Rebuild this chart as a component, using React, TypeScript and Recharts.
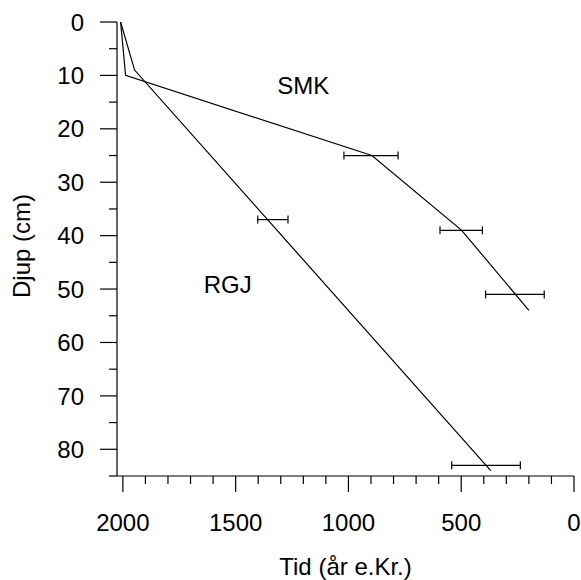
import {
  ComposedChart,
  ErrorBar,
  Line,
  ReferenceDot,
  Scatter,
  XAxis,
  YAxis,
} from 'recharts';

// depth profiles: year (e.Kr.) vs depth (cm)
const smkLine = [
  { year: 2010, depth: 0 },
  { year: 1988, depth: 10 },
  { year: 896, depth: 25 },
  { year: 498, depth: 39 },
  { year: 200, depth: 54 },
];
const rgjLine = [
  { year: 2010, depth: 0 },
  { year: 1948, depth: 9 },
  { year: 369, depth: 84 },
];

// dated levels with +/- years
const smkDates = [
  { year: 900, depth: 25, err: 120 },
  { year: 500, depth: 39, err: 94 },
  { year: 262, depth: 51, err: 130 },
];
const rgjDates = [
  { year: 1335, depth: 37, err: 67 },
  { year: 390, depth: 83, err: 152 },
];

const siteLabels = [
  { name: 'SMK', year: 1200, depth: 11.8 },
  { name: 'RGJ', year: 1535, depth: 49.2 },
];

const xTicks = Array.from({ length: 21 }, (_, i) => i * 100);
const yTicks = Array.from({ length: 18 }, (_, i) => i * 5);

const FONT = '"Liberation Sans", Arial, sans-serif';
const FS = 24;

const XTick = (props: any) => {
  const { x, y, payload } = props;
  const major = payload.value % 500 === 0;
  return (
    <g>
      <line x1={x} x2={x} y1={y} y2={y + (major ? 16 : 8)} stroke="#000" strokeWidth={1.2} />
      {major && (
        <text x={x} y={y + 46} dy="0.36em" textAnchor="middle" fontSize={FS} fontFamily={FONT} fill="#000">
          {payload.value}
        </text>
      )}
    </g>
  );
};

const YTick = (props: any) => {
  const { x, y, payload } = props;
  const major = payload.value % 10 === 0;
  return (
    <g>
      <line x1={x} x2={x - (major ? 17 : 8)} y1={y} y2={y} stroke="#000" strokeWidth={1.2} />
      {major && (
        <text x={x - 33} y={y} dy="0.36em" textAnchor="end" fontSize={FS} fontFamily={FONT} fill="#000">
          {payload.value}
        </text>
      )}
    </g>
  );
};

const NoDot = () => <g />;

export default function App() {
  return (
    <div style={{ position: 'absolute', left: 0, top: 0, background: '#fff' }}>
      <ComposedChart
        width={581}
        height={580}
        margin={{ top: 22, right: 7, bottom: 0, left: 0 }}
        style={{ fontFamily: FONT }}
      >
        <XAxis
          type="number"
          dataKey="year"
          domain={[0, 2026]}
          reversed
          ticks={xTicks}
          interval={0}
          tick={<XTick />}
          tickLine={false}
          tickSize={0}
          tickMargin={0}
          height={104}
          axisLine={{ stroke: '#000', strokeWidth: 1.2 }}
          allowDataOverflow
          label={{
            value: 'Tid (år e.Kr.)',
            position: 'insideBottom',
            offset: 5,
            style: { fontSize: FS, fill: '#000', fontFamily: FONT },
          }}
        />
        <YAxis
          type="number"
          dataKey="depth"
          domain={[0, 85]}
          reversed
          ticks={yTicks}
          interval={0}
          tick={<YTick />}
          tickLine={false}
          tickSize={0}
          tickMargin={0}
          width={117}
          axisLine={{ stroke: '#000', strokeWidth: 1.2 }}
          allowDataOverflow
        />
        <Line
          data={smkLine}
          dataKey="depth"
          stroke="#000"
          strokeWidth={1.2}
          dot={false}
          isAnimationActive={false}
        />
        <Line
          data={rgjLine}
          dataKey="depth"
          stroke="#000"
          strokeWidth={1.2}
          dot={false}
          isAnimationActive={false}
        />
        <Scatter data={smkDates} shape={<NoDot />} isAnimationActive={false}>
          <ErrorBar dataKey="err" direction="x" width={4} stroke="#000" strokeWidth={1.2} />
        </Scatter>
        <Scatter data={rgjDates} shape={<NoDot />} isAnimationActive={false}>
          <ErrorBar dataKey="err" direction="x" width={4} stroke="#000" strokeWidth={1.2} />
        </Scatter>
        {siteLabels.map((s) => (
          <ReferenceDot
            key={s.name}
            x={s.year}
            y={s.depth}
            r={0}
            fill="none"
            stroke="none"
            label={{
              value: s.name,
              position: 'center',
              style: { fontSize: FS, fill: '#000', fontFamily: FONT },
            }}
          />
        ))}
        <text
          x={21}
          y={246}
          transform="rotate(-90 21 246)"
          textAnchor="middle"
          dy="0.36em"
          fontSize={FS}
          fontFamily={FONT}
          fill="#000"
        >
          Djup (cm)
        </text>
      </ComposedChart>
    </div>
  );
}
